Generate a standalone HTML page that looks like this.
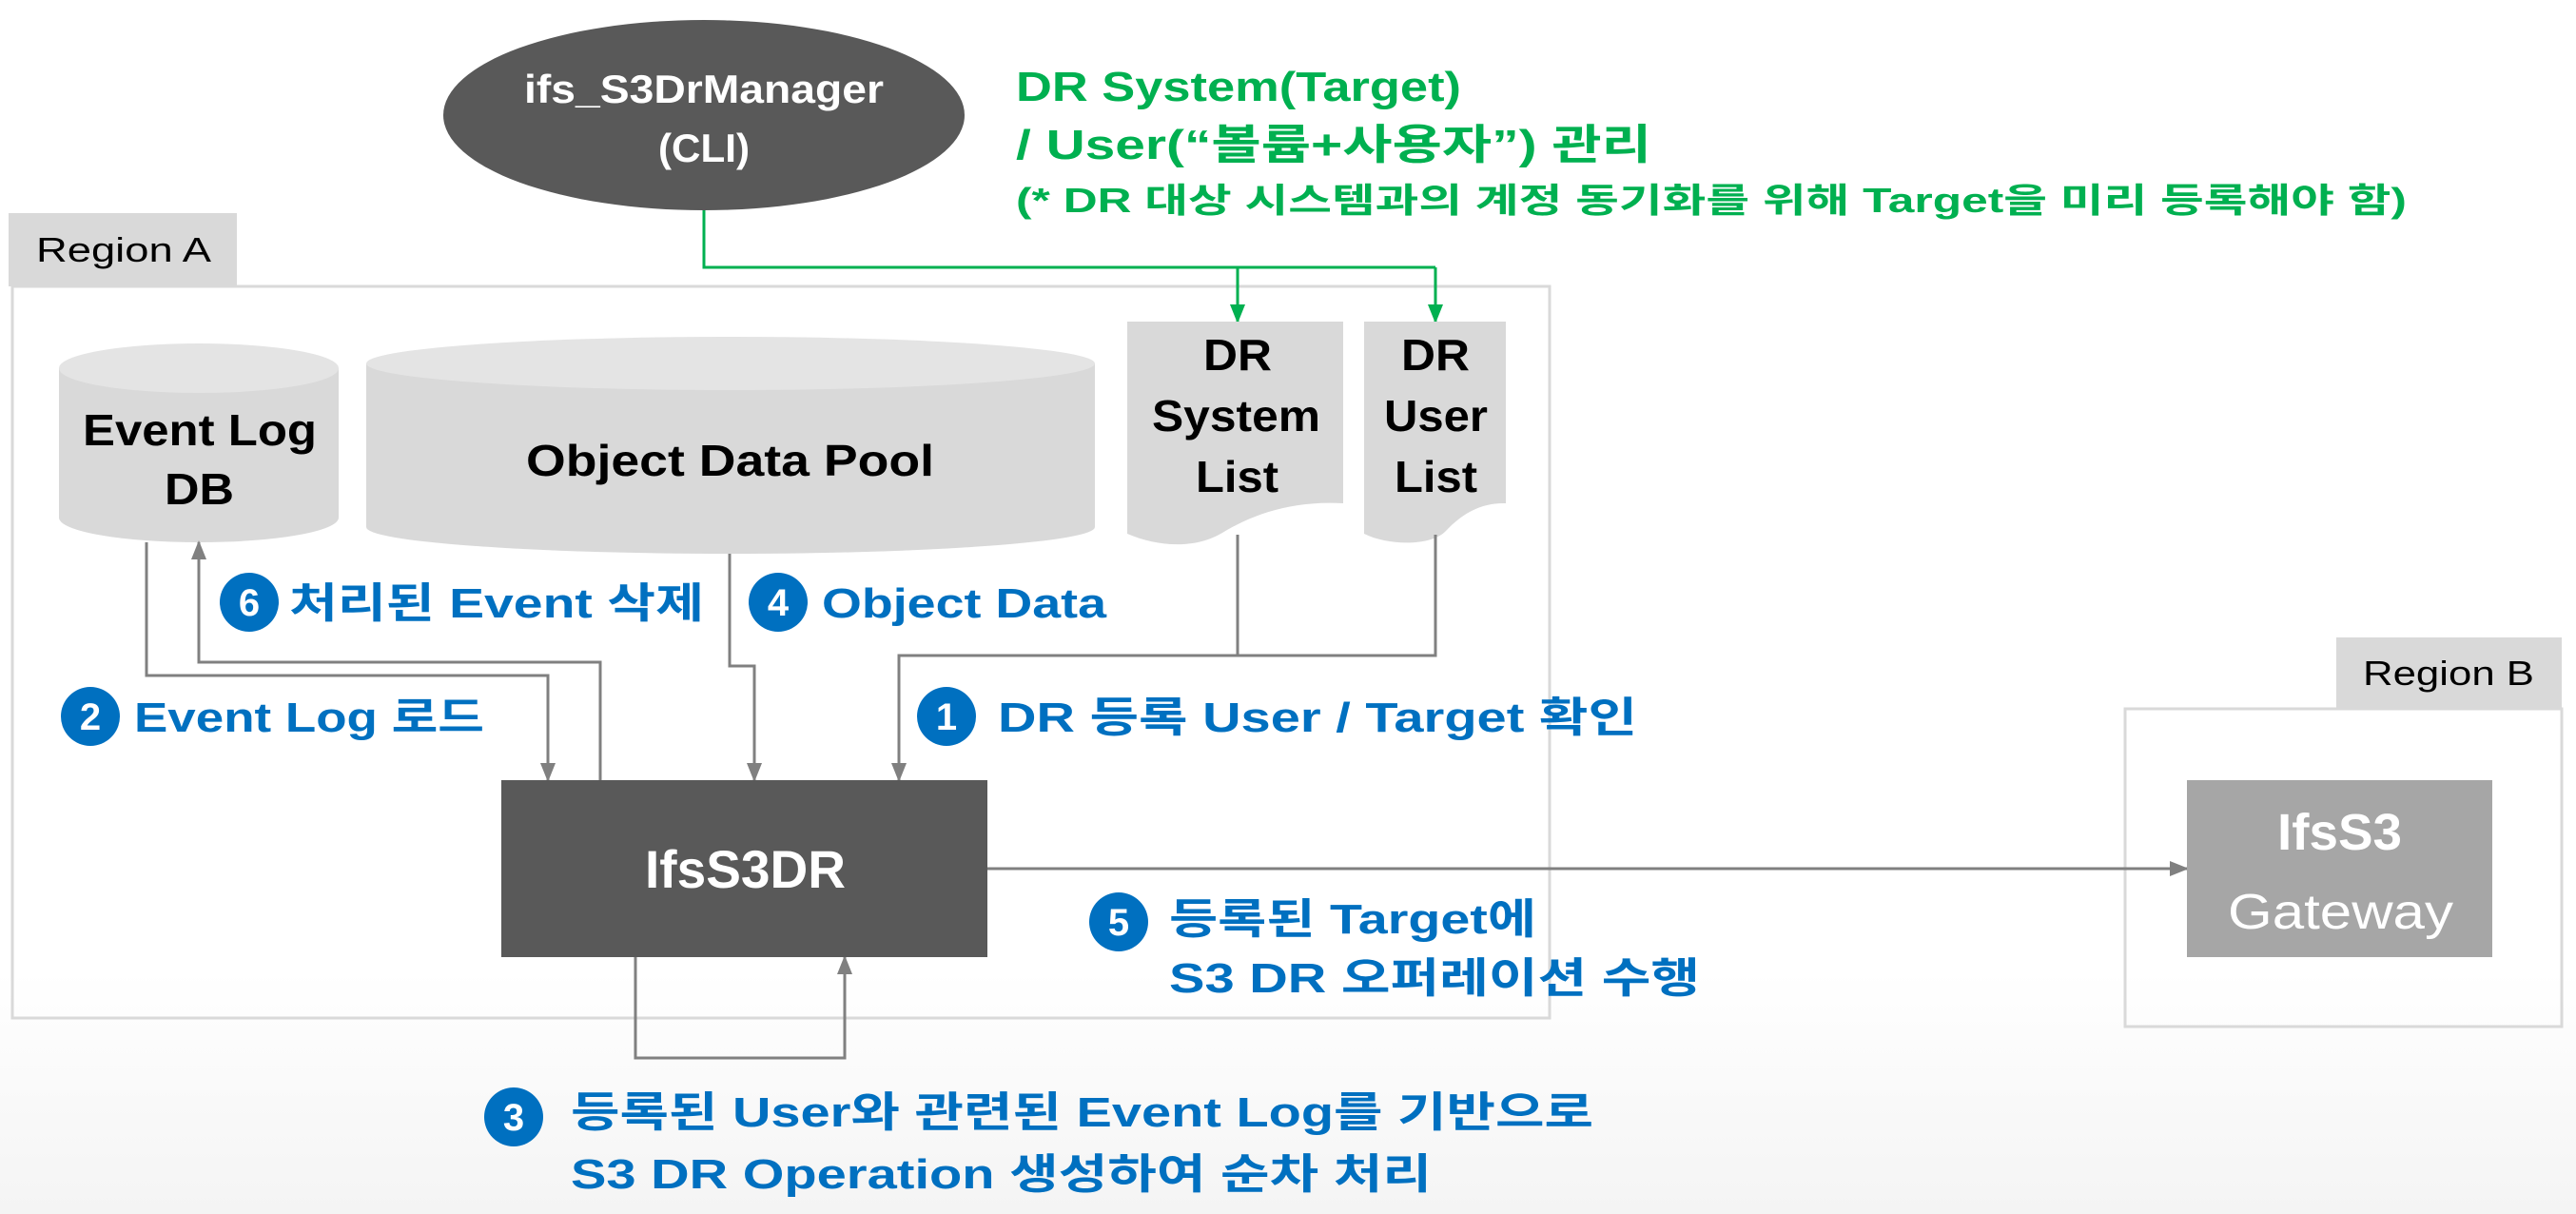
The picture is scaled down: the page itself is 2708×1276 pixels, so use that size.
<!DOCTYPE html>
<html><head><meta charset="utf-8"><style>
html,body{margin:0;padding:0;width:2708px;height:1276px;overflow:hidden;background:#fff}
svg{display:block}
text{font-family:"Liberation Sans","Noto Sans CJK KR",sans-serif;font-weight:bold}
</style></head><body>
<svg width="2708" height="1276" viewBox="0 0 2708 1276" xmlns="http://www.w3.org/2000/svg">
<defs>
<linearGradient id="bg" x1="0" y1="0" x2="0" y2="1">
<stop offset="0" stop-color="#ffffff"/><stop offset="0.8" stop-color="#ffffff"/><stop offset="1" stop-color="#f4f4f4"/>
</linearGradient>
<marker id="ag" markerWidth="20" markerHeight="18" refX="18" refY="9" orient="auto" markerUnits="userSpaceOnUse" viewBox="0 0 20 18"><path d="M0,1 L20,9 L0,17 Z" fill="#00b050"/></marker>
<marker id="ay" markerWidth="20" markerHeight="18" refX="18" refY="9" orient="auto" markerUnits="userSpaceOnUse" viewBox="0 0 20 18"><path d="M0,1 L20,9 L0,17 Z" fill="#808080"/></marker>
</defs>
<rect width="2708" height="1276" fill="url(#bg)"/>

<rect x="13" y="301" width="1616" height="769" fill="none" stroke="#d9d9d9" stroke-width="3"/>
<rect x="9" y="224" width="240" height="77" fill="#d9d9d9"/>
<text x="38" y="275" font-size="36" fill="#000" textLength="184" lengthAdjust="spacingAndGlyphs" style="font-weight:normal">Region A</text>
<rect x="2234" y="745" width="459" height="334" fill="none" stroke="#d9d9d9" stroke-width="3"/>
<rect x="2456" y="670" width="237" height="75" fill="#d9d9d9"/>
<text x="2484" y="720" font-size="36" fill="#000" textLength="180" lengthAdjust="spacingAndGlyphs" style="font-weight:normal">Region B</text>

<ellipse cx="740" cy="121" rx="274" ry="100" fill="#595959"/>
<text x="551" y="108" font-size="42" fill="#fff" textLength="378" lengthAdjust="spacingAndGlyphs">ifs_S3DrManager</text>
<text x="692" y="170" font-size="42" fill="#fff" textLength="96" lengthAdjust="spacingAndGlyphs">(CLI)</text>

<text x="1068" y="106" font-size="44" fill="#00b050" textLength="468" lengthAdjust="spacingAndGlyphs">DR System(Target)</text>
<text x="1068" y="167" font-size="44" fill="#00b050" textLength="668" lengthAdjust="spacingAndGlyphs">/ User(“볼륨+사용자”) 관리</text>
<text x="1068" y="223" font-size="36" fill="#00b050" textLength="1462" lengthAdjust="spacingAndGlyphs">(* DR 대상 시스템과의 계정 동기화를 위해 Target을 미리 등록해야 함)</text>

<polyline points="740,221 740,281 1509,281" fill="none" stroke="#00b050" stroke-width="3"/>
<line x1="1301" y1="281" x2="1301" y2="338" stroke="#00b050" stroke-width="3" marker-end="url(#ag)"/>
<line x1="1509" y1="281" x2="1509" y2="338" stroke="#00b050" stroke-width="3" marker-end="url(#ag)"/>

<path d="M62,387 V544 A147,26 0 0 0 356,544 V387 Z" fill="#d9d9d9"/>
<ellipse cx="209" cy="387" rx="147" ry="26" fill="#e4e4e4"/>
<text x="87" y="468" font-size="46" fill="#000" textLength="246" lengthAdjust="spacingAndGlyphs">Event Log</text>
<text x="173" y="530" font-size="46" fill="#000" textLength="73" lengthAdjust="spacingAndGlyphs">DB</text>

<path d="M385,382 V554 A383,28 0 0 0 1151,554 V382 Z" fill="#d9d9d9"/>
<ellipse cx="768" cy="382" rx="383" ry="28" fill="#e4e4e4"/>
<text x="553" y="500" font-size="46" fill="#000" textLength="429" lengthAdjust="spacingAndGlyphs">Object Data Pool</text>

<path d="M1185,338 H1412 V529 C1355,526 1315,542 1285,560 C1255,578 1215,574 1185,561 Z" fill="#d9d9d9"/>
<text x="1265" y="389" font-size="46" fill="#000" textLength="72" lengthAdjust="spacingAndGlyphs">DR</text>
<text x="1211" y="453" font-size="46" fill="#000" textLength="177" lengthAdjust="spacingAndGlyphs">System</text>
<text x="1257" y="517" font-size="46" fill="#000" textLength="87" lengthAdjust="spacingAndGlyphs">List</text>
<path d="M1434,338 H1583 V529 C1555,528 1535,542 1520,558 C1505,574 1460,574 1434,561 Z" fill="#d9d9d9"/>
<text x="1473" y="389" font-size="46" fill="#000" textLength="72" lengthAdjust="spacingAndGlyphs">DR</text>
<text x="1455" y="453" font-size="46" fill="#000" textLength="109" lengthAdjust="spacingAndGlyphs">User</text>
<text x="1466" y="517" font-size="46" fill="#000" textLength="87" lengthAdjust="spacingAndGlyphs">List</text>

<g fill="none" stroke="#808080" stroke-width="3">
<polyline points="154,570 154,710 576,710 576,820" marker-end="url(#ay)"/>
<polyline points="631,820 631,696 209,696 209,570" marker-end="url(#ay)"/>
<polyline points="767,582 767,700 793,700 793,820" marker-end="url(#ay)"/>
<polyline points="1301,562 1301,689"/>
<polyline points="1509,562 1509,689 945,689 945,820" marker-end="url(#ay)"/>
<polyline points="668,1006 668,1112 888,1112 888,1006" marker-end="url(#ay)"/>
<polyline points="1038,913 2299,913" marker-end="url(#ay)"/>
</g>

<rect x="527" y="820" width="511" height="186" fill="#595959"/>
<text x="678" y="933" font-size="56" fill="#fff" textLength="211" lengthAdjust="spacingAndGlyphs">IfsS3DR</text>

<rect x="2299" y="820" width="321" height="186" fill="#a6a6a6"/>
<text x="2394" y="893" font-size="54" fill="#fff" textLength="131" lengthAdjust="spacingAndGlyphs">IfsS3</text>
<text x="2342" y="976" font-size="52" fill="#fff" textLength="237" lengthAdjust="spacingAndGlyphs" style="font-weight:normal">Gateway</text>

<g fill="#0070c0">
<circle cx="262" cy="633" r="31"/><circle cx="818" cy="633" r="31"/>
<circle cx="95" cy="753" r="31"/><circle cx="995" cy="753" r="31"/>
<circle cx="1176" cy="969" r="31"/><circle cx="540" cy="1174" r="31"/>
</g>
<g fill="#fff" font-size="40" text-anchor="middle">
<text x="262" y="647">6</text><text x="818" y="647">4</text>
<text x="95" y="767">2</text><text x="995" y="767">1</text>
<text x="1176" y="983">5</text><text x="540" y="1188">3</text>
</g>
<g fill="#0070c0" font-size="44">
<text x="304" y="649" textLength="436" lengthAdjust="spacingAndGlyphs">처리된 Event 삭제</text>
<text x="864" y="649" textLength="299" lengthAdjust="spacingAndGlyphs">Object Data</text>
<text x="141" y="769" textLength="368" lengthAdjust="spacingAndGlyphs">Event Log 로드</text>
<text x="1049" y="769" textLength="672" lengthAdjust="spacingAndGlyphs">DR 등록 User / Target 확인</text>
<text x="1229" y="981" textLength="386" lengthAdjust="spacingAndGlyphs">등록된 Target에</text>
<text x="1229" y="1043" textLength="558" lengthAdjust="spacingAndGlyphs">S3 DR 오퍼레이션 수행</text>
<text x="600" y="1184" textLength="1075" lengthAdjust="spacingAndGlyphs">등록된 User와 관련된 Event Log를 기반으로</text>
<text x="600" y="1249" textLength="905" lengthAdjust="spacingAndGlyphs">S3 DR Operation 생성하여 순차 처리</text>
</g>
</svg>
</body></html>
